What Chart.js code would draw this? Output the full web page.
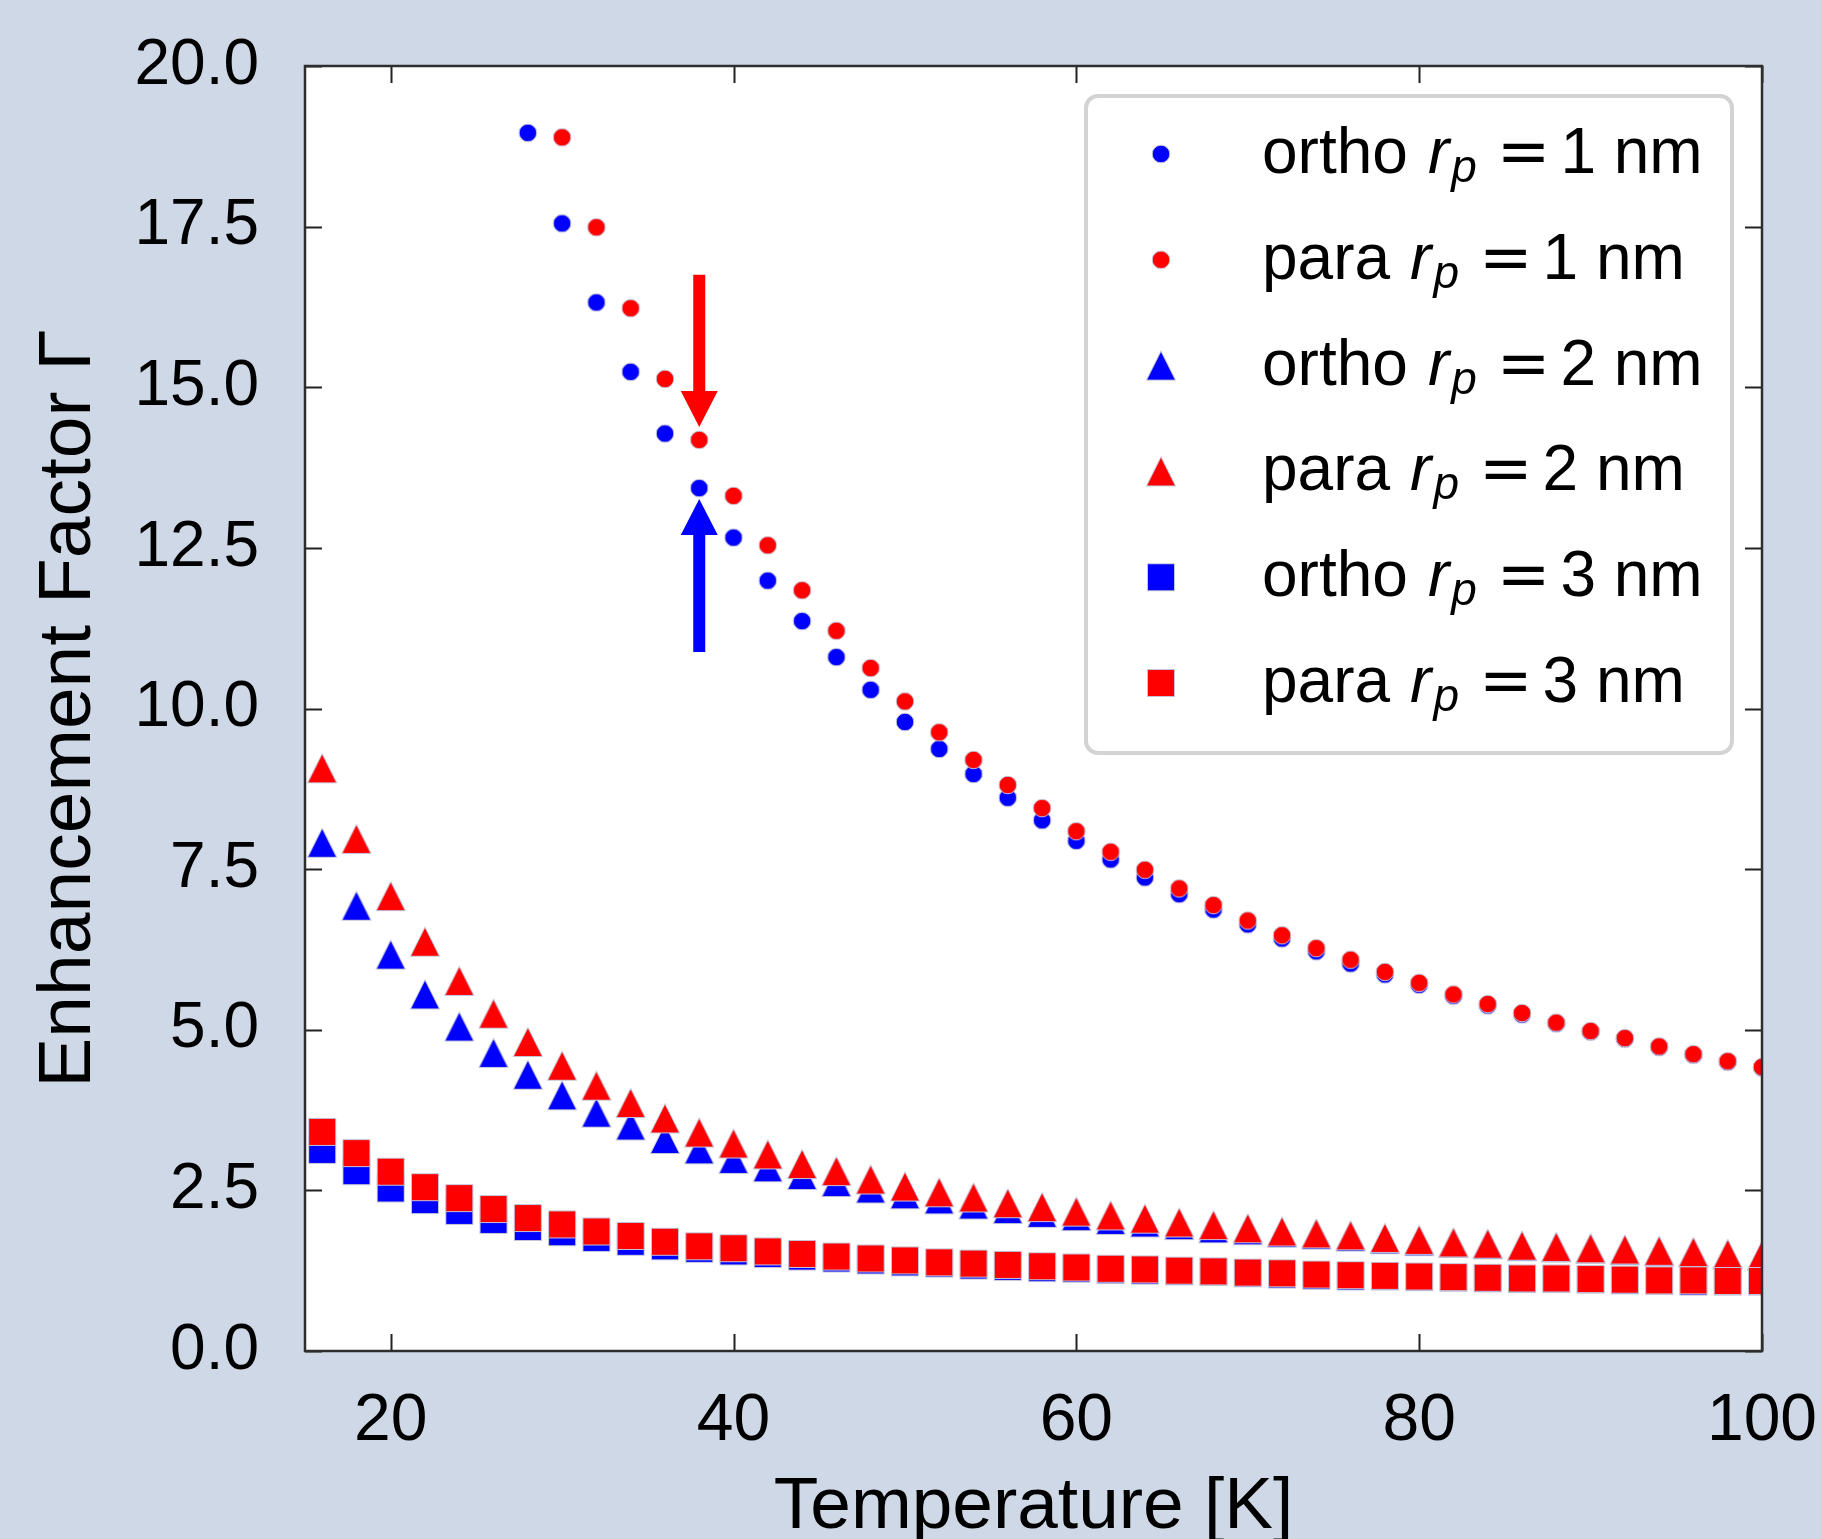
<!DOCTYPE html>
<html>
<head>
<meta charset="utf-8">
<script src="https://cdn.jsdelivr.net/npm/chart.js@4.4.0/dist/chart.umd.min.js"></script>
<style>
  html, body { margin: 0; padding: 0; background: #cfd8e6; }
  #chart { display: block; }
</style>
</head>
<body>
<canvas id="chart" width="1821" height="1539"></canvas>
<script>
// temperatures [K]
const temps16 = [16, 18, 20, 22, 24, 26, 28, 30, 32, 34, 36, 38, 40, 42, 44, 46, 48, 50, 52, 54, 56, 58,
  60, 62, 64, 66, 68, 70, 72, 74, 76, 78, 80, 82, 84, 86, 88, 90, 92, 94, 96, 98, 100]
const temps28 = [28, 30, 32, 34, 36, 38, 40, 42, 44, 46, 48, 50, 52, 54, 56, 58, 60, 62, 64, 66, 68, 70,
  72, 74, 76, 78, 80, 82, 84, 86, 88, 90, 92, 94, 96, 98, 100]
const temps30 = [30, 32, 34, 36, 38, 40, 42, 44, 46, 48, 50, 52, 54, 56, 58, 60, 62, 64, 66, 68, 70, 72,
  74, 76, 78, 80, 82, 84, 86, 88, 90, 92, 94, 96, 98, 100]

// enhancement factor
const orthoR1 = [18.96, 17.55, 16.32, 15.24, 14.28, 13.43, 12.66, 11.99, 11.36, 10.80, 10.29, 9.79, 9.37,
  8.98, 8.61, 8.26, 7.94, 7.65, 7.37, 7.11, 6.87, 6.64, 6.42, 6.22, 6.03, 5.86, 5.70, 5.53, 5.38, 5.24,
  5.10, 4.97, 4.86, 4.73, 4.61, 4.50, 4.41]
const paraR1 = [18.89, 17.49, 16.23, 15.13, 14.18, 13.31, 12.54, 11.84, 11.21, 10.63, 10.11, 9.63, 9.20,
  8.81, 8.45, 8.09, 7.77, 7.49, 7.20, 6.94, 6.70, 6.47, 6.27, 6.09, 5.90, 5.73, 5.55, 5.40, 5.26, 5.11,
  4.98, 4.87, 4.74, 4.62, 4.51, 4.42]
const orthoR2 = [7.91, 6.93, 6.17, 5.55, 5.05, 4.64, 4.30, 3.98, 3.71, 3.51, 3.30, 3.14, 2.99, 2.86, 2.74,
  2.63, 2.53, 2.44, 2.36, 2.28, 2.21, 2.15, 2.10, 2.04, 2.00, 1.96, 1.91, 1.88, 1.84, 1.81, 1.78, 1.74,
  1.71, 1.68, 1.66, 1.63, 1.61, 1.59, 1.57, 1.55, 1.53, 1.50, 1.48]
const paraR2 = [9.07, 7.97, 7.08, 6.37, 5.76, 5.25, 4.81, 4.44, 4.13, 3.86, 3.62, 3.40, 3.23, 3.06, 2.91,
  2.80, 2.67, 2.56, 2.47, 2.39, 2.30, 2.24, 2.17, 2.11, 2.06, 2.00, 1.96, 1.91, 1.86, 1.83, 1.80, 1.76,
  1.73, 1.69, 1.67, 1.64, 1.62, 1.60, 1.58, 1.56, 1.54, 1.51, 1.49]
const orthoR3 = [3.13, 2.80, 2.53, 2.35, 2.18, 2.04, 1.93, 1.85, 1.76, 1.70, 1.63, 1.59, 1.55, 1.51, 1.47,
  1.44, 1.41, 1.38, 1.36, 1.33, 1.31, 1.29, 1.28, 1.26, 1.25, 1.24, 1.23, 1.21, 1.19, 1.17, 1.16, 1.16,
  1.15, 1.14, 1.13, 1.12, 1.12, 1.11, 1.10, 1.09, 1.08, 1.08, 1.08]
const paraR3 = [3.41, 3.08, 2.79, 2.55, 2.38, 2.21, 2.07, 1.97, 1.86, 1.79, 1.70, 1.63, 1.60, 1.55, 1.51,
  1.47, 1.44, 1.41, 1.38, 1.36, 1.34, 1.32, 1.30, 1.28, 1.27, 1.25, 1.24, 1.22, 1.21, 1.19, 1.18, 1.17,
  1.16, 1.15, 1.14, 1.13, 1.13, 1.12, 1.11, 1.10, 1.10, 1.09, 1.09]

const xTickValues = [20, 40, 60, 80, 100]
const yTickValues = [0, 2.5, 5, 7.5, 10, 12.5, 15, 17.5, 20]

// annotation arrows at T = 38 K (from, to)
const arrowT = 38
const redArrow = [16.75, 14.38]
const blueArrow = [10.88, 13.26]

const SANS = "'Liberation Sans', Arial, sans-serif"
const BG = '#cfd8e6'
const BLUE = '#0000ff'
const RED = '#ff0000'
const EDGE = 'rgba(195, 195, 215, 1)'

// matplotlib-like markers drawn once into small canvases
function marker (shape, color) {
  const s = shape === 'circle' ? 22 : 32
  const c = document.createElement('canvas')
  c.width = s
  c.height = s
  const g = c.getContext('2d')
  const m = s / 2
  g.fillStyle = color
  g.strokeStyle = EDGE
  g.lineWidth = 1
  g.beginPath()
  if (shape === 'circle') {
    g.arc(m, m, 8.8, 0, Math.PI * 2)
  } else if (shape === 'rect') {
    g.rect(m - 13.5, m - 13.5, 27, 27)
  } else {
    g.moveTo(m, m - 14.5)
    g.lineTo(m + 14.5, m + 14.5)
    g.lineTo(m - 14.5, m + 14.5)
    g.closePath()
  }
  g.fill()
  g.stroke()
  return c
}

function pts (xs, ys) {
  return xs.map((x, i) => ({ x: x, y: ys[i] }))
}

function series (kind, rp, xs, ys, shape, color, order) {
  const style = marker(shape, color)
  return {
    label: kind + ' rp = ' + rp + ' nm',
    kind: kind,
    rp: rp,
    data: pts(xs, ys),
    pointStyle: style,
    pointRadius: 12,
    pointHoverRadius: 12,
    backgroundColor: color,
    borderColor: color,
    showLine: false,
    clip: 0,
    order: order
  }
}

const datasets = [
  series('ortho', 1, temps28, orthoR1, 'circle', BLUE, 6),
  series('para', 1, temps30, paraR1, 'circle', RED, 5),
  series('ortho', 2, temps16, orthoR2, 'triangle', BLUE, 4),
  series('para', 2, temps16, paraR2, 'triangle', RED, 3),
  series('ortho', 3, temps16, orthoR3, 'rect', BLUE, 2),
  series('para', 3, temps16, paraR3, 'rect', RED, 1)
]

const background = {
  id: 'background',
  beforeDraw (chart) {
    const { ctx, chartArea: a } = chart
    ctx.save()
    ctx.fillStyle = BG
    ctx.fillRect(0, 0, chart.width, chart.height)
    ctx.fillStyle = '#ffffff'
    ctx.fillRect(a.left, a.top, a.right - a.left, a.bottom - a.top)
    ctx.restore()
  }
}

function drawArrow (ctx, x, y0, y1, color) {
  const dir = y1 > y0 ? 1 : -1
  const headLen = 36
  const headHalf = 18.5
  const shaftHalf = 6
  const yb = y1 - dir * headLen
  ctx.beginPath()
  ctx.moveTo(x - shaftHalf, y0)
  ctx.lineTo(x + shaftHalf, y0)
  ctx.lineTo(x + shaftHalf, yb)
  ctx.lineTo(x + headHalf, yb)
  ctx.lineTo(x, y1)
  ctx.lineTo(x - headHalf, yb)
  ctx.lineTo(x - shaftHalf, yb)
  ctx.closePath()
  ctx.fillStyle = color
  ctx.fill()
}

const frame = {
  id: 'frame',
  afterDraw (chart) {
    const { ctx, chartArea: a } = chart
    const xs = chart.scales.x
    const ys = chart.scales.y
    ctx.save()

    // arrows
    const ax = xs.getPixelForValue(arrowT)
    drawArrow(ctx, ax, ys.getPixelForValue(redArrow[0]), ys.getPixelForValue(redArrow[1]), RED)
    drawArrow(ctx, ax, ys.getPixelForValue(blueArrow[0]), ys.getPixelForValue(blueArrow[1]), BLUE)

    // inward ticks on all four sides
    const tl = 17
    ctx.strokeStyle = '#222'
    ctx.lineWidth = 2
    ctx.beginPath()
    xs.ticks.forEach(t => {
      const p = Math.round(xs.getPixelForValue(t.value)) + 0.5
      ctx.moveTo(p, a.bottom)
      ctx.lineTo(p, a.bottom - tl)
      ctx.moveTo(p, a.top)
      ctx.lineTo(p, a.top + tl)
    })
    ys.ticks.forEach(t => {
      const p = Math.round(ys.getPixelForValue(t.value)) + 0.5
      ctx.moveTo(a.left, p)
      ctx.lineTo(a.left + tl, p)
      ctx.moveTo(a.right, p)
      ctx.lineTo(a.right - tl, p)
    })
    ctx.stroke()

    // axes box
    ctx.strokeStyle = '#2e2e2e'
    ctx.lineWidth = 2.5
    ctx.strokeRect(a.left, a.top, a.right - a.left, a.bottom - a.top)

    // legend
    const bw = 646
    const bh = 657
    const bx = a.right - 30 - bw
    const by = a.top + 30
    ctx.beginPath()
    ctx.roundRect(bx, by, bw, bh, 12)
    ctx.fillStyle = '#ffffff'
    ctx.fill()
    ctx.strokeStyle = '#d3d3d3'
    ctx.lineWidth = 4
    ctx.stroke()

    const fs = 64
    chart.data.datasets.forEach((ds, i) => {
      const ry = by + 58 + i * 105.8
      const img = ds.pointStyle
      ctx.drawImage(img, bx + 75 - img.width / 2, ry - img.height / 2)

      const base = ry + 19
      let x = bx + 176
      ctx.fillStyle = '#000'
      ctx.textAlign = 'left'
      ctx.textBaseline = 'alphabetic'
      ctx.font = fs + 'px ' + SANS
      ctx.fillText(ds.kind, x, base)
      x += ctx.measureText(ds.kind).width + 20
      ctx.font = 'italic ' + fs + 'px ' + SANS
      ctx.fillText('r', x, base)
      x += ctx.measureText('r').width + 2
      ctx.font = 'italic ' + Math.round(fs * 0.72) + 'px ' + SANS
      ctx.fillText('p', x, base + 9)
      x += ctx.measureText('p').width + 20
      ctx.font = fs + "px 'DejaVu Sans', " + SANS
      ctx.fillText('=', x, base)
      x += ctx.measureText('=').width + 10
      ctx.font = fs + 'px ' + SANS
      ctx.fillText(ds.rp + ' nm', x, base)
    })
    ctx.restore()
  }
}

new Chart(document.getElementById('chart'), {
  type: 'scatter',
  data: { datasets: datasets },
  options: {
    responsive: false,
    animation: false,
    events: [],
    layout: { padding: { top: 66, right: 59, left: 0, bottom: 0 } },
    plugins: {
      legend: { display: false },
      tooltip: { enabled: false }
    },
    scales: {
      x: {
        type: 'linear',
        min: 15,
        max: 100,
        grid: { display: false },
        border: { display: false },
        afterBuildTicks: s => { s.ticks = xTickValues.map(v => ({ value: v })) },
        afterFit: s => {
          s.height = 188
          s.paddingLeft = 0
          s.paddingRight = 0
        },
        ticks: {
          autoSkip: false,
          maxRotation: 0,
          padding: 23,
          color: '#000',
          font: { family: SANS, size: 66 },
          callback: v => String(v)
        },
        title: {
          display: true,
          text: 'Temperature [K]',
          color: '#000',
          font: { family: SANS, size: 73, lineHeight: 0.86 },
          padding: { top: 0, bottom: 0 }
        }
      },
      y: {
        type: 'linear',
        min: 0,
        max: 20,
        grid: { display: false },
        border: { display: false },
        afterBuildTicks: s => { s.ticks = yTickValues.map(v => ({ value: v })) },
        afterFit: s => {
          s.width = 305
          s.paddingTop = 0
          s.paddingBottom = 0
        },
        ticks: {
          autoSkip: false,
          padding: 38,
          color: '#000',
          font: { family: SANS, size: 64 },
          callback: v => v.toFixed(1)
        },
        title: {
          display: true,
          text: 'Enhancement Factor Γ',
          color: '#000',
          font: { family: SANS, size: 75, lineHeight: 1 },
          padding: { top: 32, bottom: 0 }
        }
      }
    }
  },
  plugins: [background, frame]
})
</script>
</body>
</html>
